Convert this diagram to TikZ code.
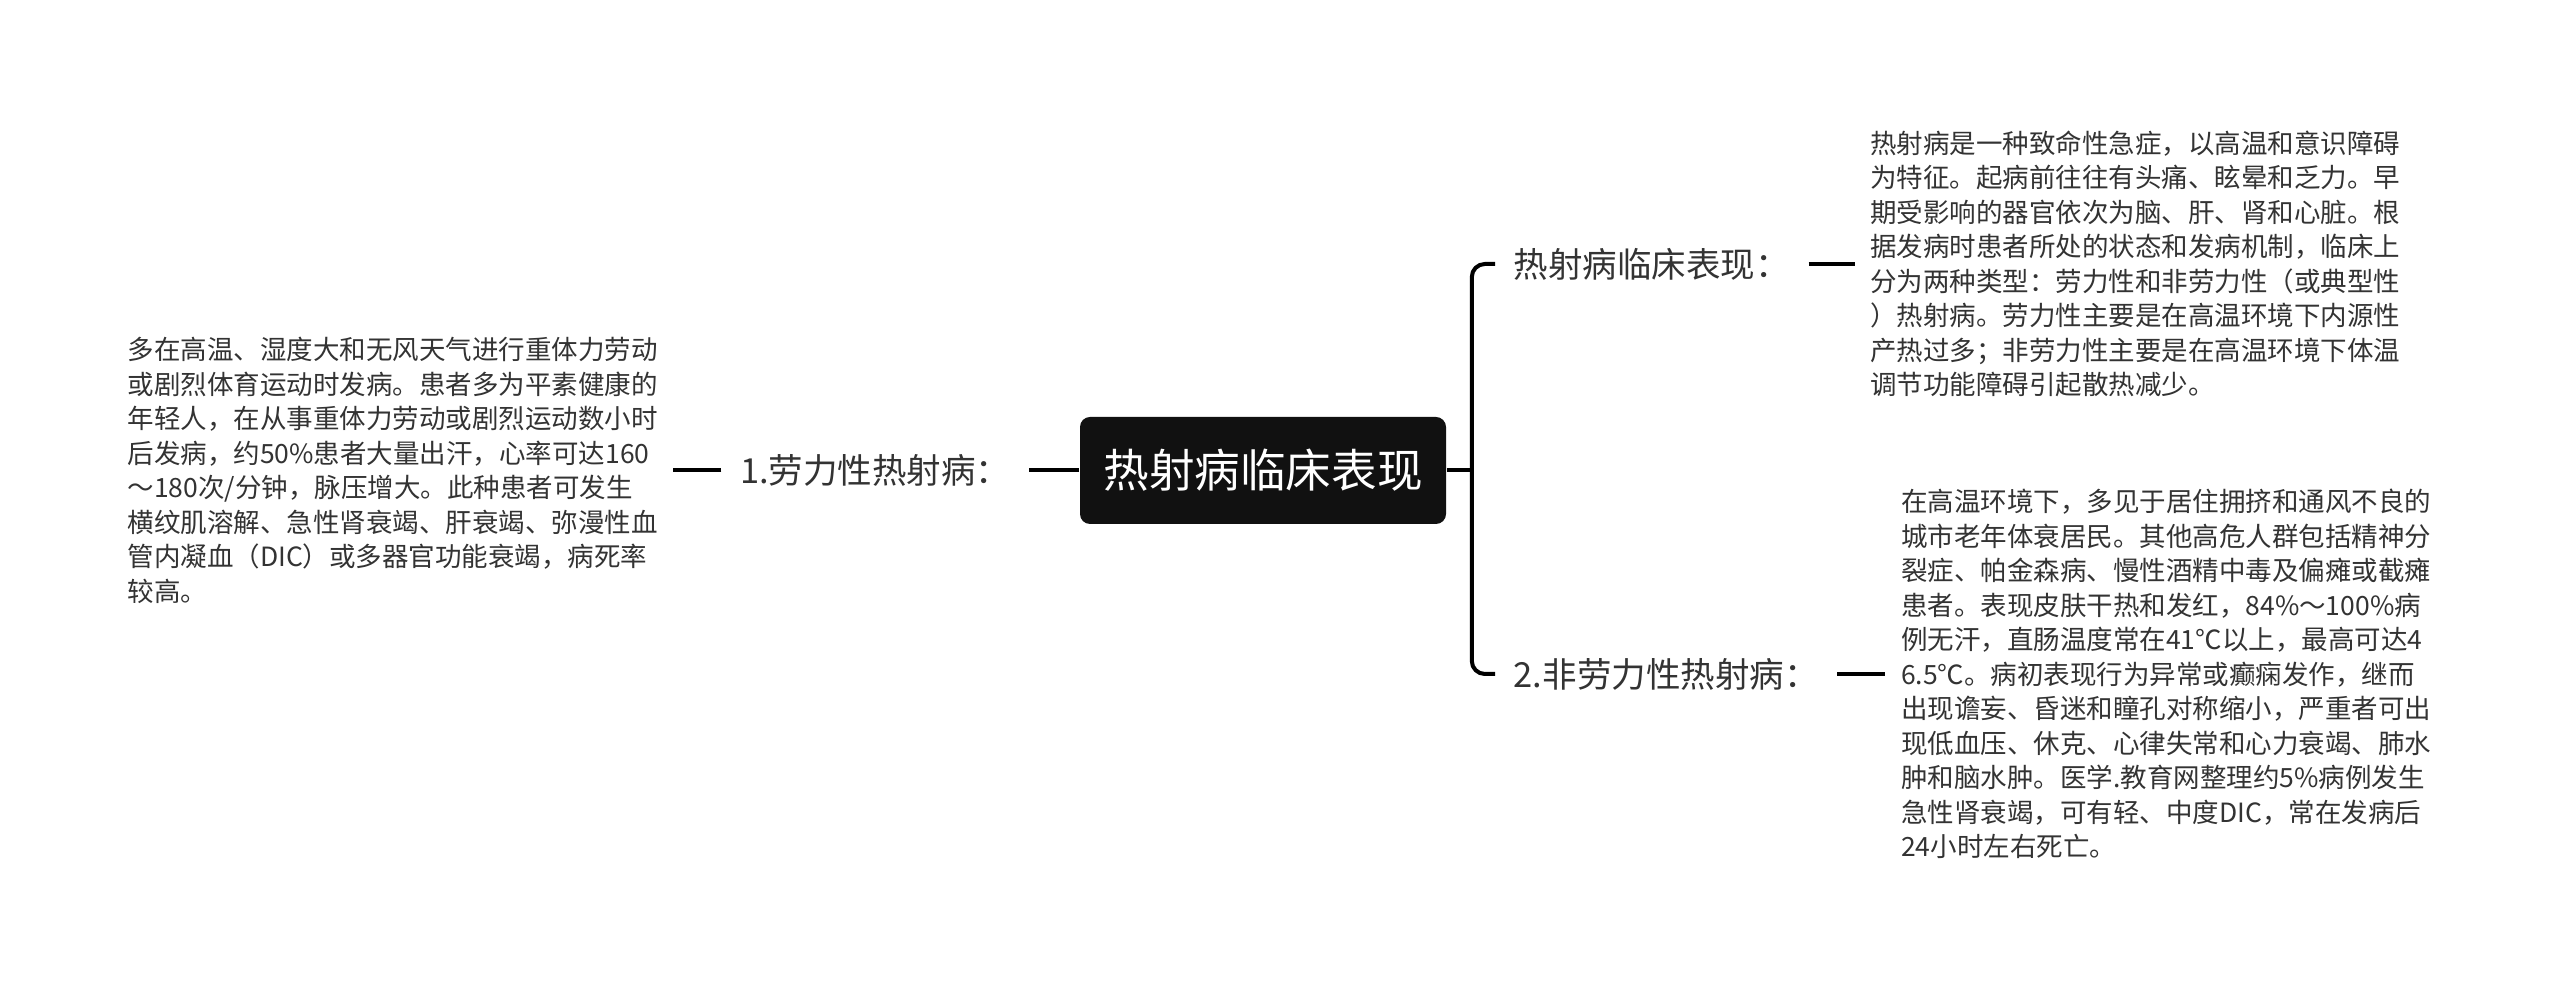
\documentclass[tikz,border=0pt]{standalone}
\usepackage{fontspec}
\setmainfont{Noto Sans CJK SC}
\usetikzlibrary{positioning}
\definecolor{inkgray}{HTML}{333333}
\definecolor{topicfill}{HTML}{111111}
\tikzstyle{topic} =
        [
                rectangle,
                fill = topicfill,
                text = white,
                rounded corners = 2.5pt,
                minimum width = 91.5pt,
                minimum height = 26.75pt,
                font = \fontsize{11.4pt}{13pt}\selectfont
        ]
\tikzstyle{subtopic} =
        [
                text = inkgray,
                inner xsep = 4.5pt,
                inner ysep = 2pt,
                font = \fontsize{8.625pt}{10pt}\selectfont
        ]
\tikzstyle{detail} =
        [
                text = inkgray,
                align = left,
                inner xsep = 3.75pt,
                inner ysep = 2pt,
                font = \fontsize{6.625pt}{8.625pt}\selectfont
        ]
\tikzstyle{line} =
        [
                draw,
                line width = 1pt
        ]

\begin{document}
\begin{tikzpicture}[x = 0.25pt, y = -0.25pt]
        \fill [white] (0,0) rectangle (2560,993);
        \useasboundingbox (0,0) rectangle (2560,993);

        \node [topic] (topic) at (1263,470.5) {热射病临床表现};
        \node [subtopic, left = 12.5pt of topic] (exert) {1.劳力性热射病：};
        \node [detail, left = 12pt of exert] (exertnote) {多在高温、湿度大和无风天气进行重体力劳动\\
或剧烈体育运动时发病。患者多为平素健康的\\
年轻人，在从事重体力劳动或剧烈运动数小时\\
后发病，约50\%患者大量出汗，心率可达160\\
～180次/分钟，脉压增大。此种患者可发生\\
横纹肌溶解、急性肾衰竭、肝衰竭、弥漫性血\\
管内凝血（DIC）或多器官功能衰竭，病死率\\
较高。};

        \coordinate [right = 6.25pt of topic] (fork);
        \node [subtopic, anchor = west] (clinic) at (1495,264) {热射病临床表现：};
        \node [detail, right = 11.5pt of clinic] (clinicnote) {热射病是一种致命性急症，以高温和意识障碍\\
为特征。起病前往往有头痛、眩晕和乏力。早\\
期受影响的器官依次为脑、肝、肾和心脏。根\\
据发病时患者所处的状态和发病机制，临床上\\
分为两种类型：劳力性和非劳力性（或典型性\\
）热射病。劳力性主要是在高温环境下内源性\\
产热过多；非劳力性主要是在高温环境下体温\\
调节功能障碍引起散热减少。};
        \node [subtopic, anchor = west] (nonexert) at (1495,674) {2.非劳力性热射病：};
        \node [detail, right = 12pt of nonexert] (nonexertnote) {在高温环境下，多见于居住拥挤和通风不良的\\
城市老年体衰居民。其他高危人群包括精神分\\
裂症、帕金森病、慢性酒精中毒及偏瘫或截瘫\\
患者。表现皮肤干热和发红，84\%～100\%病\\
例无汗，直肠温度常在41℃以上，最高可达4\\
6.5℃。病初表现行为异常或癫痫发作，继而\\
出现谵妄、昏迷和瞳孔对称缩小，严重者可出\\
现低血压、休克、心律失常和心力衰竭、肺水\\
肿和脑水肿。医学.教育网整理约5\%病例发生\\
急性肾衰竭，可有轻、中度DIC，常在发病后\\
24小时左右死亡。};

        \path [line] (topic) -- (exert);
        \path [line] (exert) -- (exertnote);
        \path [line] (topic) -- (fork);
        \path [line, rounded corners = 3.25pt] (clinic.west) -| (fork) |- (nonexert.west);
        \path [line] (clinic) -- (clinicnote);
        \path [line] (nonexert) -- (nonexertnote);
\end{tikzpicture}
\end{document}
